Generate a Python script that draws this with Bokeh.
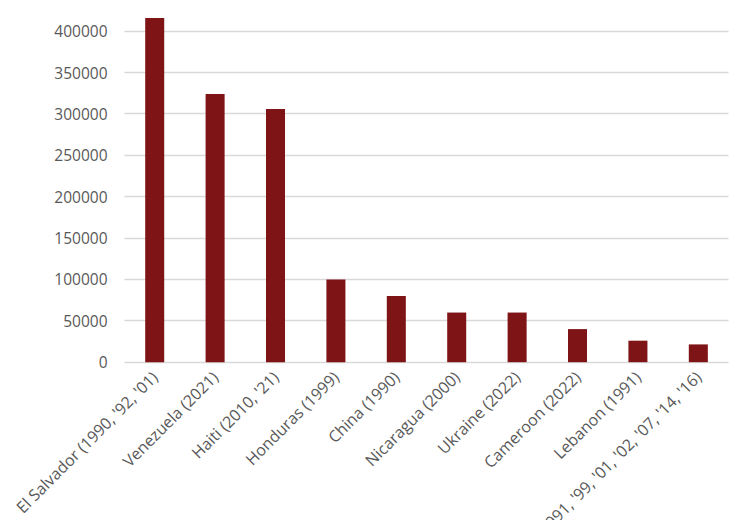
from bokeh.plotting import figure
from bokeh.models import ColumnDataSource, FixedTicker, BasicTickFormatter, Range1d
from bokeh.embed import file_html
from bokeh.resources import INLINE
import math

categories = [
    "El Salvador (1990, '92, '01)",
    "Venezuela (2021)",
    "Haiti (2010, '21)",
    "Honduras (1999)",
    "China (1990)",
    "Nicaragua (2000)",
    "Ukraine (2022)",
    "Cameroon (2022)",
    "Lebanon (1991)",
    "Liberia (1991, '99, '01, '02, '07, '14, '16)",
]
values = [416000, 324000, 306000, 100000, 80000, 60000, 60000, 40000, 26000, 21500]
y_ticks = [0, 50000, 100000, 150000, 200000, 250000, 300000, 350000, 400000]

FONT = "Open Sans"
TEXT_COLOR = "#595959"

positions = list(range(len(categories)))
src = ColumnDataSource(dict(x=positions, val=values))

p = figure(
    x_range=Range1d(-2.553, 9.897),
    y_range=Range1d(-191300, 437100),
    width=752,
    height=520,
    output_backend="svg",
    toolbar_location=None,
    min_border_left=0,
    min_border_right=0,
    min_border_top=0,
    min_border_bottom=0,
)
p.outline_line_color = None
p.background_fill_color = "white"
p.border_fill_color = "white"

p.vbar(x="x", top="val", width=0.315, source=src, color="#7f1416", line_color=None)

# x axis drawn at y = 0 inside the (full-canvas) frame
p.xaxis.fixed_location = 0
p.xaxis.ticker = FixedTicker(ticks=positions)
p.xaxis.major_label_overrides = {i: c for i, c in zip(positions, categories)}
p.xaxis.axis_line_color = None
p.xaxis.major_tick_line_color = None
p.xaxis.minor_tick_line_color = None
p.xaxis.major_tick_out = 0
p.xaxis.major_tick_in = 0
p.xaxis.major_label_orientation = math.pi / 4
p.xaxis.major_label_standoff = 12
p.xaxis.major_label_text_font = FONT
p.xaxis.major_label_text_font_size = "16px"
p.xaxis.major_label_text_color = TEXT_COLOR
p.xgrid.visible = False

# y axis drawn at the left edge of the bar area
p.yaxis.fixed_location = -0.5
p.yaxis.ticker = FixedTicker(ticks=y_ticks)
p.yaxis.formatter = BasicTickFormatter(use_scientific=False)
p.yaxis.axis_line_color = None
p.yaxis.major_tick_line_color = None
p.yaxis.minor_tick_line_color = None
p.yaxis.major_tick_out = 0
p.yaxis.major_tick_in = 0
p.yaxis.major_label_standoff = 17
p.yaxis.major_label_text_font = FONT
p.yaxis.major_label_text_font_size = "15.5px"
p.yaxis.major_label_text_color = TEXT_COLOR

p.ygrid.ticker = FixedTicker(ticks=y_ticks)
p.ygrid.cross_bounds = (-0.5, 9.5)
p.ygrid.grid_line_color = "#d9d9d9"
p.ygrid.grid_line_width = 1.3

open("out.html", "w").write(file_html(p, INLINE))
